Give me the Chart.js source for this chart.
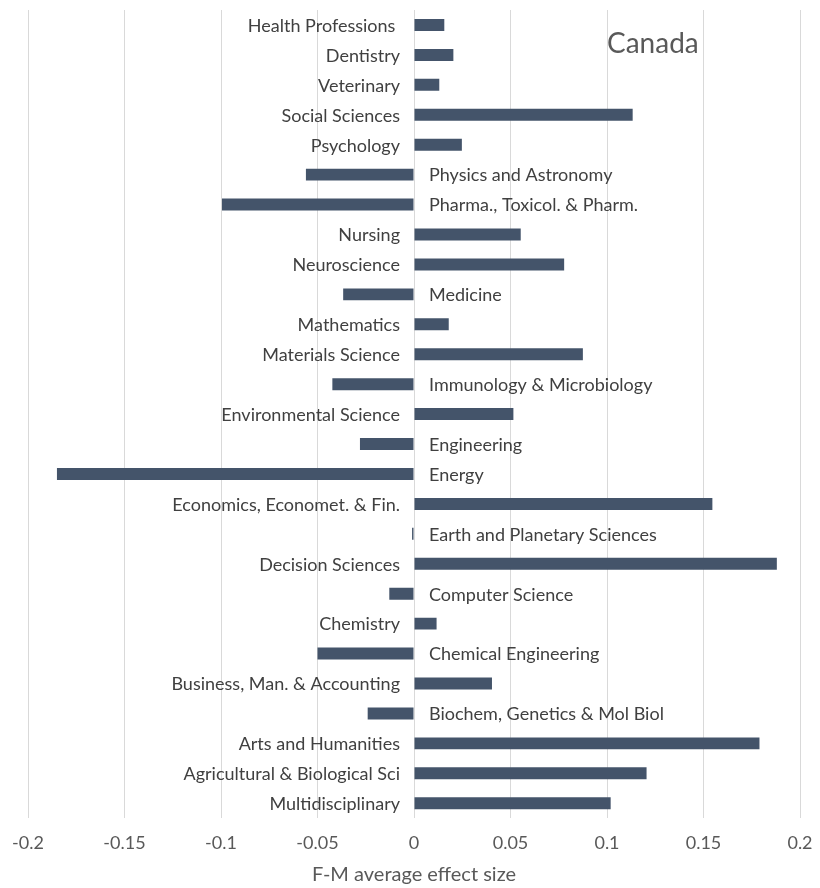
<!DOCTYPE html>
<html>
<head>
<meta charset="utf-8">
<script src="https://cdn.jsdelivr.net/npm/chart.js@4"></script>
<style>
  body { margin: 0; background: #fff; }
</style>
</head>
<body>
<canvas id="chart" width="820" height="888"></canvas>
<script>
// subject areas, top to bottom
const fields = [
  "Health Professions ", "Dentistry", "Veterinary", "Social Sciences", "Psychology",
  "Physics and Astronomy", "Pharma., Toxicol. & Pharm.", "Nursing", "Neuroscience",
  "Medicine", "Mathematics", "Materials Science", "Immunology & Microbiology",
  "Environmental Science", "Engineering", "Energy", "Economics, Economet. & Fin.",
  "Earth and Planetary Sciences", "Decision Sciences", "Computer Science", "Chemistry",
  "Chemical Engineering", "Business, Man. & Accounting", "Biochem, Genetics & Mol Biol",
  "Arts and Humanities", "Agricultural & Biological Sci", "Multidisciplinary"
]
// F-M average effect size
const effectSize = [
  0.0157, 0.0204, 0.0131, 0.1133, 0.0248,
  -0.056, -0.0995, 0.0553, 0.0778,
  -0.0367, 0.018, 0.0875, -0.0423,
  0.0515, -0.028, -0.185, 0.1546,
  -0.001, 0.188, -0.0128, 0.0117,
  -0.050, 0.0404, -0.024,
  0.179, 0.1205, 0.1019
]
const tickLabels = ["-0.2", "-0.15", "-0.1", "-0.05", "0", "0.05", "0.1", "0.15", "0.2"]
const countryName = "Canada"
const axisTitle = "F-M average effect size"

const fontFamily = "Lato, 'Open Sans', sans-serif"

// labels sit on the other side of zero from their bar
const sideLabels = {
  id: "sideLabels",
  afterDatasetsDraw(chart) {
    const ctx = chart.ctx
    const xs = chart.scales.x
    const ys = chart.scales.y
    const zero = xs.getPixelForValue(0)
    ctx.save()
    ctx.font = "18px " + fontFamily
    ctx.fillStyle = "#404040"
    ctx.textBaseline = "middle"
    fields.forEach((name, i) => {
      const y = ys.getPixelForValue(i) + 1
      if (effectSize[i] >= 0) {
        ctx.textAlign = "right"
        ctx.fillText(name, zero - 14, y)
      } else {
        ctx.textAlign = "left"
        ctx.fillText(name, zero + 15, y)
      }
    })
    ctx.font = "28px " + fontFamily
    ctx.fillStyle = "#595959"
    ctx.textAlign = "left"
    ctx.fillText(countryName, 607, 44)
    ctx.restore()
  }
}

new Chart(document.getElementById("chart"), {
  type: "bar",
  data: {
    labels: fields,
    datasets: [{
      data: effectSize,
      backgroundColor: "#44546a",
      categoryPercentage: 1,
      barPercentage: 0.4
    }]
  },
  options: {
    indexAxis: "y",
    responsive: false,
    animation: false,
    layout: { padding: { left: 28, right: 20, top: 10, bottom: 3 } },
    plugins: {
      legend: { display: false },
      tooltip: { enabled: false }
    },
    scales: {
      x: {
        min: -0.2,
        max: 0.2,
        afterFit: (s) => { s.paddingLeft = 0; s.paddingRight = 0 },
        ticks: {
          stepSize: 0.05,
          padding: 15,
          color: "#595959",
          font: { family: fontFamily, size: 18, lineHeight: 1.1 },
          callback: (v, i) => tickLabels[i]
        },
        grid: { color: "#d9d9d9", drawTicks: false },
        border: { display: false },
        title: {
          display: true,
          text: axisTitle,
          color: "#595959",
          font: { family: fontFamily, size: 20, lineHeight: 1 },
          padding: { top: -3, bottom: 0 }
        }
      },
      y: {
        display: false
      }
    }
  },
  plugins: [sideLabels]
})
</script>
</body>
</html>
